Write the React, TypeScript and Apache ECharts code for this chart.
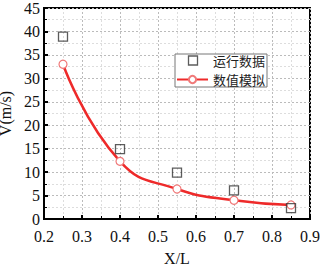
import React, { useEffect, useRef } from "react";
import * as echarts from "echarts";

const xPositions = [0.25, 0.4, 0.55, 0.7, 0.85];
const measured = [38.9, 14.9, 9.9, 6.1, 2.3];
const simulated = [33.0, 12.3, 6.4, 4.0, 3.0];
const seriesNames = ["运行数据", "数值模拟"];
const axisNames = { x: "X/L", y: "V(m/s)" };

const serif = "'Liberation Serif', 'Times New Roman', serif";

export default function App() {
  const ref = useRef<HTMLDivElement>(null);
  useEffect(() => {
    if (!ref.current) return;
    const chart = echarts.init(ref.current, undefined, { renderer: "svg" });
    const gridLine = { show: true, lineStyle: { color: "#bbb", type: [2, 2], width: 1 } };
    const minorLine = { show: true, lineStyle: { color: "#ddd", type: [2, 2], width: 1 } };
    chart.setOption({
      animation: false,
      backgroundColor: "#fff",
      grid: {
        left: 44,
        right: 13,
        top: 8,
        bottom: 47,
        outerBoundsMode: "none",
        containLabel: false,
        show: true,
        borderColor: "#000",
        borderWidth: 2,
        backgroundColor: "transparent",
      },
      legend: {
        left: 175,
        top: 54,
        orient: "vertical",
        itemGap: 6,
        itemWidth: 31,
        itemHeight: 9,
        padding: [0, 2, 1, 1],
        borderColor: "#777",
        borderWidth: 1,
        backgroundColor: "#fff",
        textStyle: { fontFamily: "'Noto Sans CJK SC'", fontSize: 13, lineHeight: 13, color: "#222" },
        data: [
          {
            name: seriesNames[0],
            icon: "path://M0,0M31,9M11.5,0H20.5V9H11.5Z",
            itemStyle: { color: "transparent", borderColor: "#333", borderWidth: 1.3 },
          },
          { name: seriesNames[1] },
        ],
      },
      xAxis: {
        type: "value",
        min: 0.2,
        max: 0.9,
        interval: 0.1,
        name: axisNames.x,
        nameLocation: "middle",
        nameGap: 31,
        nameTextStyle: { fontFamily: serif, fontSize: 16, color: "#111" },
        axisLine: { show: true, lineStyle: { color: "#000", width: 2 } },
        axisTick: { show: true, inside: true, length: 4, lineStyle: { color: "#000", width: 2 } },
        minorTick: { show: true, splitNumber: 2, length: 3, lineStyle: { color: "#000", width: 1 } },
        axisLabel: {
          fontFamily: serif,
          fontSize: 16,
          color: "#111",
          margin: 9,
          formatter: (v: number) => v.toFixed(1),
        },
        splitLine: gridLine,
        minorSplitLine: minorLine,
      },
      yAxis: {
        type: "value",
        min: 0,
        max: 45,
        interval: 5,
        name: axisNames.y,
        nameLocation: "middle",
        nameGap: 22,
        nameTextStyle: { fontFamily: serif, fontSize: 16, color: "#111" },
        axisLine: { show: true, lineStyle: { color: "#000", width: 2 } },
        axisTick: { show: true, inside: true, length: 4, lineStyle: { color: "#000", width: 2 } },
        minorTick: { show: true, splitNumber: 2, length: 3, lineStyle: { color: "#000", width: 1 } },
        axisLabel: { fontFamily: serif, fontSize: 16, lineHeight: 12, color: "#111", margin: 4 },
        splitLine: gridLine,
        minorSplitLine: minorLine,
      },
      series: [
        {
          name: seriesNames[0],
          type: "scatter",
          data: xPositions.map((x, i) => [x, measured[i]]),
          symbol: "rect",
          symbolSize: 9,
          itemStyle: { color: "transparent", borderColor: "#333", borderWidth: 1.3 },
          z: 3,
        },
        {
          name: seriesNames[1],
          type: "line",
          smooth: 0.5,
          data: xPositions.map((x, i) => [x, simulated[i]]),
          symbol: "circle",
          symbolSize: 8,
          showSymbol: true,
          lineStyle: { color: "#ee2a2a", width: 2.5 },
          itemStyle: { color: "#fff", borderColor: "#f07a7a", borderWidth: 1.2 },
          z: 2,
        },
      ],
    });
    return () => chart.dispose();
  }, []);
  return (
    <div
      ref={ref}
      style={{ position: "fixed", left: 0, top: 0, width: 323, height: 266 }}
    />
  );
}
